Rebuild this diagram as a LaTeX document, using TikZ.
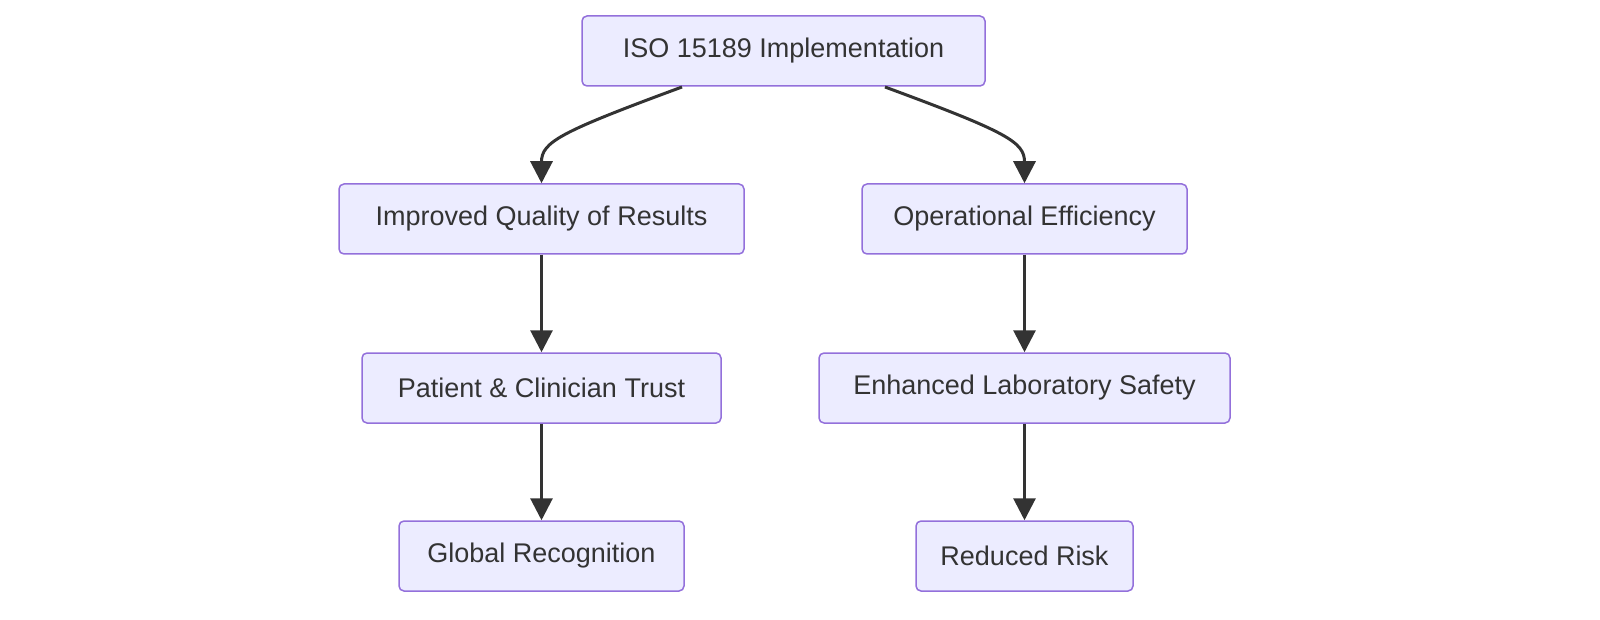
\documentclass[tikz,border=0pt]{standalone}
\usepackage{fontspec}
\setmainfont{Liberation Sans}
\usetikzlibrary{arrows.meta}
\definecolor{nfill}{HTML}{ECECFF}
\definecolor{nstroke}{HTML}{9370DB}
\definecolor{ink}{HTML}{333333}
\begin{document}
\begin{tikzpicture}[x=1pt,y=-1pt,
  box/.style={draw=nstroke,fill=nfill,line width=1.5pt,rounded corners=5pt,minimum height=70pt,inner sep=0pt,text=ink,font=\fontsize{27}{32}\selectfont},
  arr/.style={draw=ink,line width=3pt,-{Triangle[length=22pt,width=22pt]}}]
\useasboundingbox (0,0) rectangle (1600,620);
\node[box,minimum width=403pt] (a) at (783.5,51) {ISO 15189 Implementation};
\node[box,minimum width=405pt] (b) at (541.5,219) {Improved Quality of Results};
\node[box,minimum width=325pt] (c) at (1024.5,219) {Operational Efficiency};
\node[box,minimum width=359pt] (d) at (541.5,388) {Patient \& Clinician Trust};
\node[box,minimum width=411pt] (e) at (1024.5,388) {Enhanced Laboratory Safety};
\node[box,minimum width=285pt] (f) at (541.5,556) {Global Recognition};
\node[box,minimum width=217pt] (g) at (1024.5,556) {Reduced Risk};
\coordinate (a1) at (682,87);
\coordinate (a2) at (885,87);
\draw[arr] (a1) .. controls (560,132) and (541.5,142) .. (b.north);
\draw[arr] (a2) .. controls (1007,132) and (1024.5,142) .. (c.north);
\draw[arr] (b) -- (d);
\draw[arr] (c) -- (e);
\draw[arr] (d) -- (f);
\draw[arr] (e) -- (g);
\end{tikzpicture}
\end{document}
